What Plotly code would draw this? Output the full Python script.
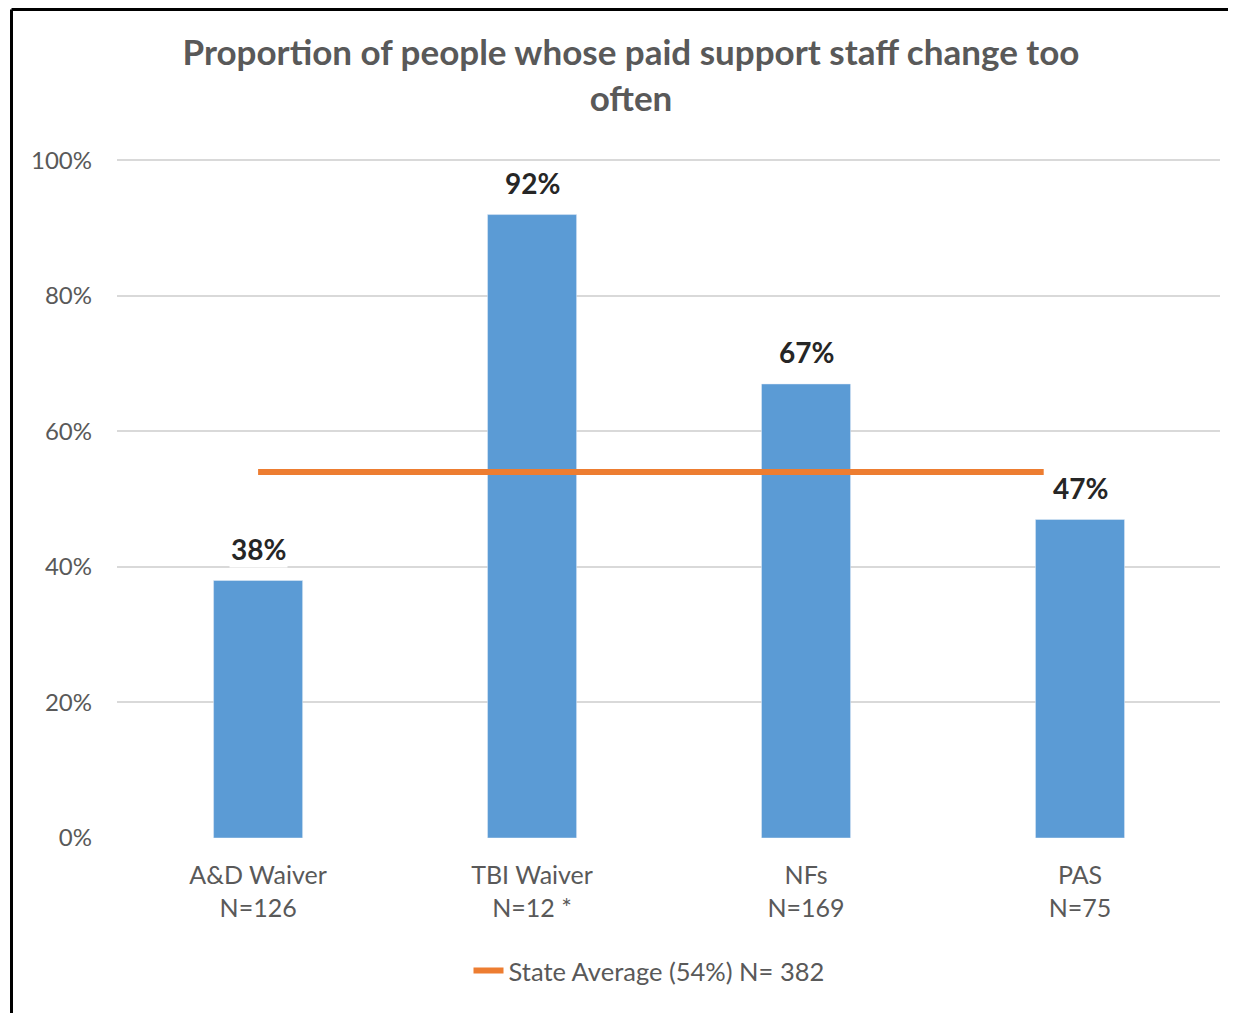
import plotly.graph_objects as go

# ---- data ----
categories = ["A&D Waiver", "TBI Waiver", "NFs", "PAS"]
sample_sizes = ["N=126", "N=12 *", "N=169", "N=75"]
values = [0.38, 0.92, 0.67, 0.47]
state_average = 0.54
state_n = 382
y_ticks = [0, 0.2, 0.4, 0.6, 0.8, 1.0]

# ---- styles ----
BAR = "#5B9BD5"
LINE = "#ED7D31"
TXT = "#595959"
GRID = "#D9D9D9"
FONT = "Lato, 'Open Sans', sans-serif"
OFF = 8  # page body margin
W, H = 1236 - OFF, 1013 - OFF
# plot area in page pixels: x 117..1220, y 159..838
ML = 117 - OFF
MR = (OFF + W) - 1220
MT = 159 - OFF
MB = (OFF + H) - 838
bar_frac = 0.325

xs = list(range(len(categories)))
tick_text = [f"{c}<br>{n}" for c, n in zip(categories, sample_sizes)]

fig = go.Figure()
fig.add_trace(go.Bar(
    x=xs, y=values, marker_color=BAR, width=bar_frac, showlegend=False,
    hoverinfo="skip",
))
line_end = xs[-1] - bar_frac / 2 + 0.03
fig.add_trace(go.Scatter(
    x=[xs[0], line_end], y=[state_average, state_average], mode="lines",
    line=dict(color=LINE, width=6),
    name=f"State Average ({state_average:.0%}) N= {state_n}",
))

annotations = []
for x, v in zip(xs, values):
    annotations.append(dict(
        x=x, y=v, xref="x", yref="y", text=f"<b>{v:.0%}</b>", showarrow=False,
        yshift=32, bgcolor="white", font=dict(family=FONT, size=28, color="#262626"),
    ))

pw = W - ML - MR
ph = H - MT - MB


def px_x(page_px):
    return (page_px - OFF - ML) / pw


def px_y(page_py):
    return (MT + ph - (page_py - OFF)) / ph


left_px, top_px = 11.5, 9.5
shapes = [
    dict(type="line", xref="paper", yref="paper",
         x0=px_x(left_px), x1=px_x(left_px), y0=px_y(1013 + 20), y1=px_y(top_px),
         line=dict(color="black", width=3)),
    dict(type="line", xref="paper", yref="paper",
         x0=px_x(left_px), x1=px_x(1236 + 20), y0=px_y(top_px), y1=px_y(top_px),
         line=dict(color="black", width=3)),
]

fig.update_layout(
    width=W, height=H,
    margin=dict(l=ML, r=MR, t=MT, b=MB),
    paper_bgcolor="white", plot_bgcolor="white",
    title=dict(
        text="<b>Proportion of people whose paid support staff change too<br>often</b>",
        x=(631 - OFF) / W, xanchor="center", y=1 - (65 - OFF) / H, yanchor="middle",
        font=dict(family=FONT, size=35, color=TXT),
    ),
    xaxis=dict(
        tickvals=xs, ticktext=tick_text, range=[-0.515, len(xs) - 0.489],
        showgrid=False, zeroline=False, showline=False, ticks="",
        ticklabelstandoff=20,
        tickfont=dict(family=FONT, size=25, color=TXT),
    ),
    yaxis=dict(
        range=[0, 1.002], tickvals=y_ticks, tickformat=".0%",
        showgrid=True, gridcolor=GRID, gridwidth=1.5, zeroline=False,
        showline=False, ticks="", ticklabelstandoff=24,
        tickfont=dict(family=FONT, size=24, color=TXT),
    ),
    legend=dict(
        orientation="h", x=px_x(649), xanchor="center",
        y=px_y(971), yanchor="middle",
        font=dict(family=FONT, size=25.5, color=TXT),
    ),
    annotations=annotations,
    shapes=shapes,
)

fig.write_html("out.html")
